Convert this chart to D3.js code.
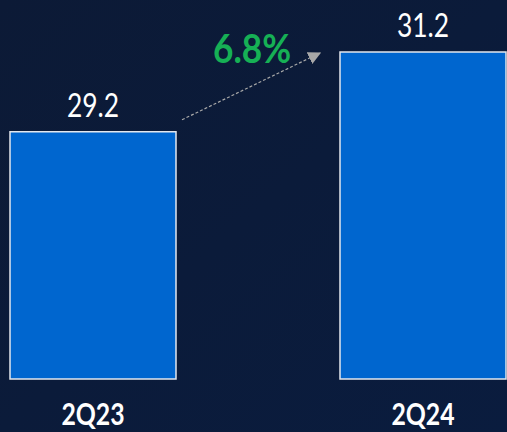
<!DOCTYPE html>
<html lang="en">
  <head>
    <meta charset="utf-8">
    <title>2Q23 vs 2Q24</title>
    <style>
      body {
        margin: 0;
        background: #0b1a38;
        overflow: hidden;
      }
      text {
        font-family: Lato, "Open Sans", Arial, sans-serif;
      }
    </style>
  </head>
  <body>
    <svg id="chart" width="507" height="432"></svg>

    <script src="https://d3js.org/d3.v7.min.js"></script>
    <script>
      const categories = ["2Q23", "2Q24"];
      const values = [29.2, 31.2];

      const svg = d3.select("#chart");
      const width = +svg.attr("width"), height = +svg.attr("height");

      // background with a faint gradient
      const defs = svg.append("defs");
      const grad = defs.append("linearGradient").attr("id", "bg").attr("x1", 0).attr("y1", 0).attr("x2", 1).attr("y2", 1);
      grad.append("stop").attr("offset", "0%").attr("stop-color", "#0c1a36");
      grad.append("stop").attr("offset", "100%").attr("stop-color", "#0a1c3e");
      svg.append("rect").attr("width", width).attr("height", height).attr("fill", "url(#bg)");

      defs.append("marker").attr("id", "arrow").attr("viewBox", "0 0 10 10")
        .attr("refX", 9).attr("refY", 5).attr("markerWidth", 13).attr("markerHeight", 13)
        .attr("markerUnits", "userSpaceOnUse").attr("orient", "auto")
        .append("path").attr("d", "M0,0 L10,5 L0,10 Z").attr("fill", "#a8a8a8");

      const x = d3.scaleBand().domain(categories).range([10, 506]).paddingInner(164 / 330);
      const y = d3.scaleLinear().domain([23, 31.2]).range([379, 52]);

      svg.selectAll(".bar").data(values).enter().append("rect")
        .attr("class", "bar")
        .attr("x", (d, i) => x(categories[i]))
        .attr("y", d => y(d))
        .attr("width", x.bandwidth())
        .attr("height", d => y.range()[0] - y(d))
        .attr("fill", "#0066cf")
        .attr("stroke", "#e4e8ee")
        .attr("stroke-width", 1.5);

      // narrow look: squeeze the glyphs horizontally
      svg.selectAll(".val").data(values).enter().append("text")
        .attr("transform", (d, i) => `translate(${x(categories[i]) + x.bandwidth() / 2},${y(d) - 15}) scale(0.8,1)`)
        .attr("text-anchor", "middle")
        .attr("fill", "#ffffff")
        .style("font-size", "33px")
        .text(d => d.toFixed(1));

      svg.selectAll(".cat").data(categories).enter().append("text")
        .attr("transform", d => `translate(${x(d) + x.bandwidth() / 2},425) scale(0.8,1)`)
        .attr("text-anchor", "middle")
        .attr("fill", "#ffffff")
        .style("font-size", "31px")
        .style("font-weight", "bold")
        .text(d => d);

      // growth arrow
      const x1 = x(categories[0]) + x.bandwidth() + 6, y1 = y(values[0]) - 12;
      const x2 = x(categories[1]) - 20, y2 = y(values[1]) + 1;
      svg.append("line")
        .attr("x1", x1).attr("y1", y1).attr("x2", x2).attr("y2", y2)
        .attr("stroke", "#a8a8a8").attr("stroke-width", 1.2)
        .attr("stroke-dasharray", "3,2")
        .attr("marker-end", "url(#arrow)");

      const growth = (values[1] / values[0] - 1) * 100;
      svg.append("text")
        .attr("transform", "translate(252,63) scale(0.86,1)")
        .attr("text-anchor", "middle")
        .attr("fill", "#16b055")
        .style("font-size", "41px")
        .style("font-weight", "bold")
        .text(growth.toFixed(1) + "%");
    </script>
  </body>
</html>
